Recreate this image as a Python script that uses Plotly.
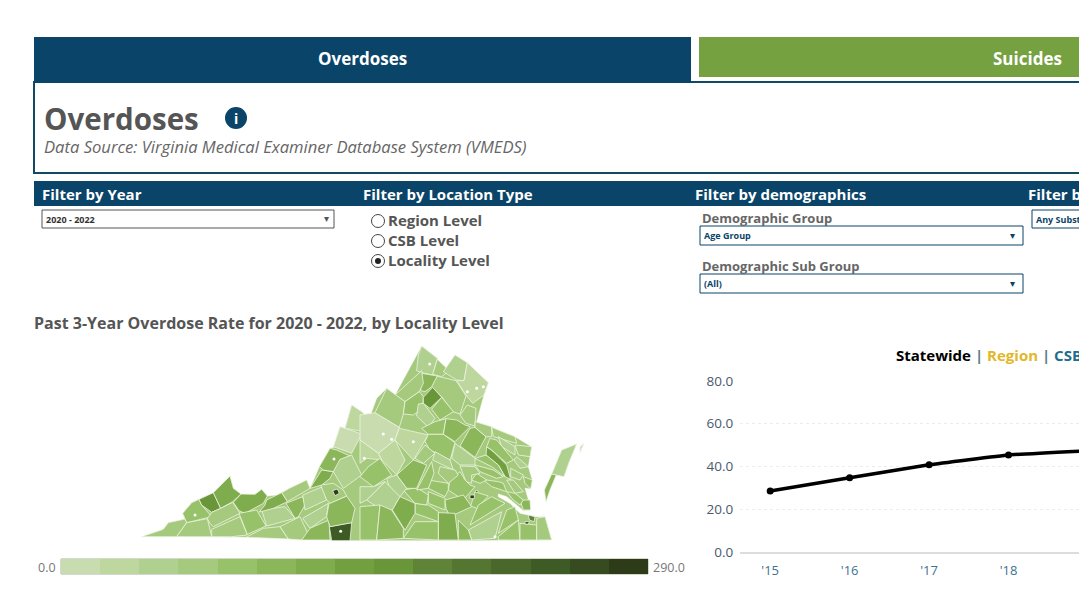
import plotly.graph_objects as go

W = 1079
H = 607

# Line chart data (statewide rate)
YEARS = [2015, 2016, 2017, 2018, 2019]
YEAR_LABELS = ["'15", "'16", "'17", "'18", "'19"]
STATEWIDE = [28.5, 34.7, 40.8, 45.4, 47.4]
RATE_TICKS = [0, 20, 40, 60, 80]

# Colour legend of the map
LEGEND_MIN = 0.0
LEGEND_MAX = 290.0
PALETTE = ["#c9dcb0", "#bdd79f", "#afd08e", "#a5ca7e", "#98c26a", "#8bb75a", "#7fac4c", "#72a040",
           "#6a963a", "#5f8438", "#557631", "#4a682b", "#3f5b25", "#374b20", "#2e3b19"]

# Map outlines, in map units
STATE_OUTLINE = [(35, 590), (100, 568), (115, 548), (165, 537), (158, 520), (185, 488), (207, 478), (250, 458),
                 (300, 408), (310, 445), (333, 462), (375, 463), (395, 448), (412, 468), (440, 465), (478, 445),
                 (530, 420), (540, 445), (568, 380), (600, 325), (615, 320), (630, 260), (645, 265), (665, 195),
                 (695, 215), (718, 235), (740, 175), (770, 145), (795, 165), (875, 18), (922, 55), (940, 95),
                 (975, 45), (1012, 68), (1075, 128), (1062, 165), (1040, 245), (1085, 262), (1155, 290),
                 (1205, 320), (1200, 350), (1195, 380), (1207, 420), (1202, 447), (1185, 445), (1200, 495),
                 (1202, 510), (1180, 512), (1160, 495), (1130, 470), (1105, 462), (1105, 470), (1140, 490),
                 (1170, 520), (1195, 525), (1215, 530), (1245, 530), (1265, 600), (1040, 602), (660, 602),
                 (350, 592), (35, 590)]

WEST_NAMES = ["Lee", "Scott", "Wise", "Dickenson", "Buchanan", "Russell", "Washington", "Tazewell", "Smyth",
              "Wythe", "Pulaski", "Bland", "Giles", "Grayson", "Carroll", "Floyd", "Montgomery", "Patrick",
              "Henry", "Franklin", "Roanoke", "Roanoke City", "Botetourt", "Alleghany", "Bath", "Highland",
              "Rockbridge"]
WEST_RATES = [68, 68, 87, 164, 125, 68, 68, 125, 87,
              50, 106, 68, 125, 68, 68, 50, 50, 106,
              242, 106, 68, 280, 125, 106, 10, 30,
              50]
WEST_OUTLINES = [
    [(35, 590), (100, 568), (115, 548), (165, 537), (170, 548), (140, 590)],
    [(140, 590), (170, 548), (232, 536), (245, 590)],
    [(158, 520), (185, 488), (207, 478), (215, 495), (245, 530), (170, 548)],
    [(207, 478), (250, 458), (272, 505), (245, 517), (215, 495)],
    [(250, 458), (300, 408), (310, 445), (333, 462), (308, 485), (272, 505)],
    [(232, 536), (245, 517), (272, 505), (308, 487), (330, 520), (250, 560), (240, 550)],
    [(245, 590), (245, 568), (330, 530), (352, 585), (305, 590)],
    [(310, 487), (333, 462), (375, 463), (395, 448), (412, 468), (400, 490), (345, 520), (327, 512)],
    [(327, 520), (380, 510), (408, 558), (352, 583)],
    [(395, 510), (465, 500), (495, 535), (410, 558)],
    [(468, 490), (518, 470), (525, 495), (505, 530), (495, 535)],
    [(455, 458), (478, 445), (530, 420), (540, 445), (472, 485)],
    [(410, 480), (455, 458), (472, 485), (430, 505), (388, 516), (405, 495)],
    [(352, 590), (400, 565), (450, 560), (475, 597), (352, 592)],
    [(450, 560), (510, 530), (538, 590), (515, 600), (475, 597)],
    [(518, 535), (595, 490), (590, 530), (540, 565)],
    [(518, 465), (578, 440), (590, 480), (525, 510)],
    [(515, 600), (540, 565), (597, 540), (600, 600)],
    [(598, 560), (665, 548), (660, 602), (605, 602)],
    [(590, 530), (597, 490), (650, 468), (675, 505), (665, 548), (600, 560)],
    [(572, 435), (610, 430), (640, 450), (650, 468), (600, 490), (590, 480)],
    [(608, 452), (622, 447), (628, 460), (615, 467)],
    [(540, 445), (575, 390), (610, 395), (600, 415), (575, 435), (545, 442)],
    [(568, 380), (600, 325), (620, 330), (660, 348), (640, 355), (610, 395), (580, 390)],
    [(610, 320), (630, 260), (695, 282), (665, 340)],
    [(645, 265), (665, 195), (695, 215), (718, 235), (700, 275)],
    [(610, 395), (630, 358), (665, 345), (695, 405), (640, 445)],
]

# These were read against a frame starting further east, EAST_SHIFT lines them up
EAST_SHIFT = 690
EAST_NAMES = ["Augusta", "Albemarle", "Nelson", "Amherst", "Frederick", "Clarke", "Loudoun", "Fairfax",
              "Fauquier", "Stafford", "Warren", "Shenandoah", "Rockingham", "Page", "Rappahannock", "Madison",
              "Greene", "Orange", "Spotsylvania", "Caroline", "Louisa", "Fluvanna", "Goochland", "Hanover",
              "King George", "Westmoreland", "Richmond", "Northumberland", "Lancaster", "King and Queen",
              "Essex", "King William", "New Kent", "Middlesex", "Gloucester", "Mathews", "James City",
              "Charles City", "Richmond City", "Henrico", "Chesterfield", "Powhatan", "Amelia", "Nottoway",
              "Dinwiddie", "Prince George", "Surry", "Southampton", "Greensville", "Brunswick", "Mecklenburg",
              "Lunenburg", "Prince Edward", "Cumberland", "Buckingham", "Appomattox", "Campbell", "Bedford",
              "Rockbridge East", "Pittsylvania", "Halifax", "Charlotte", "Isle of Wight", "Suffolk",
              "Chesapeake", "Virginia Beach", "Norfolk", "Portsmouth", "Newport News", "Hopewell", "Petersburg",
              "Northampton", "Accomack", "Tangier", "York"]
EAST_RATES = [10, 30, 30, 30, 50, 68, 50, 30,
              68, 68, 106, 68, 68, 87, 164, 87,
              50, 87, 106, 106, 87, 68, 50, 50,
              68, 68, 50, 68, 50, 145,
              87, 87, 87, 68, 68, 87, 87,
              87, 280, 68, 87, 68, 87, 87,
              106, 87, 87, 50, 106, 125, 87,
              87, 87, 87, 106, 50, 50, 87,
              50, 87, 106, 125, 87, 87,
              87, 68, 183, 280, 106, 280, 280,
              106, 50, 10, 87]
EAST_OUTLINES = [
    [(0, 225), (45, 218), (118, 262), (105, 300), (55, 340), (0, 300)],
    [(118, 265), (205, 285), (160, 360), (105, 300)],
    [(55, 340), (105, 300), (135, 360), (110, 405), (65, 360)],
    [(0, 300), (55, 340), (65, 360), (20, 355), (0, 370)],
    [(185, 18), (232, 55), (218, 105), (185, 98), (170, 92), (175, 45)],
    [(232, 58), (268, 92), (245, 110), (218, 103)],
    [(250, 95), (285, 45), (322, 68), (312, 122), (290, 120)],
    [(322, 68), (385, 128), (372, 165), (338, 190), (318, 165), (290, 122), (312, 122)],
    [(230, 108), (288, 122), (318, 168), (300, 222), (278, 215), (245, 170), (215, 140)],
    [(300, 225), (322, 195), (348, 205), (345, 258), (318, 250)],
    [(185, 100), (218, 105), (232, 108), (215, 140), (195, 155), (182, 152)],
    [(105, 165), (185, 92), (190, 130), (178, 155), (135, 185)],
    [(80, 145), (135, 185), (130, 222), (118, 262), (45, 218), (65, 178)],
    [(135, 185), (178, 155), (190, 170), (188, 205), (160, 225), (130, 222)],
    [(190, 172), (218, 142), (245, 172), (210, 205), (190, 190)],
    [(245, 172), (280, 215), (240, 240), (215, 208)],
    [(175, 192), (190, 190), (225, 235), (205, 262), (170, 228)],
    [(185, 265), (225, 245), (258, 236), (250, 283), (205, 283)],
    [(258, 236), (290, 240), (315, 255), (330, 260), (285, 305), (250, 283)],
    [(345, 262), (378, 290), (345, 352), (300, 318), (330, 265)],
    [(205, 283), (250, 283), (285, 308), (270, 360), (210, 330), (195, 305)],
    [(195, 315), (225, 340), (190, 370), (165, 355)],
    [(225, 335), (270, 360), (280, 390), (250, 375), (218, 360)],
    [(285, 310), (345, 355), (345, 375), (300, 375), (275, 355)],
    [(345, 245), (395, 260), (395, 290), (378, 290), (345, 262)],
    [(395, 262), (465, 290), (470, 310), (400, 290)],
    [(415, 290), (465, 320), (465, 345), (425, 320)],
    [(465, 315), (515, 320), (510, 350), (475, 345)],
    [(470, 350), (505, 380), (480, 385), (462, 360)],
    [(380, 320), (400, 335), (440, 375), (452, 418), (435, 410), (415, 375), (378, 345)],
    [(390, 295), (410, 300), (460, 360), (440, 370), (395, 330), (380, 320)],
    [(345, 355), (378, 345), (415, 375), (435, 410), (395, 380)],
    [(345, 375), (400, 390), (430, 410), (410, 415), (360, 395)],
    [(452, 385), (490, 405), (480, 420), (452, 410)],
    [(440, 420), (460, 420), (490, 455), (465, 460)],
    [(490, 410), (517, 420), (512, 447), (495, 430)],
    [(380, 420), (415, 425), (430, 430), (440, 455), (395, 440), (365, 415)],
    [(350, 400), (380, 420), (360, 430), (335, 420)],
    [(315, 398), (332, 398), (332, 418), (318, 418)],
    [(300, 378), (345, 380), (360, 400), (335, 405), (335, 430), (318, 425)],
    [(270, 420), (300, 395), (315, 420), (330, 435), (345, 440), (310, 480), (265, 450)],
    [(240, 380), (285, 390), (295, 405), (265, 430), (235, 400)],
    [(205, 420), (265, 430), (265, 450), (255, 470), (205, 445)],
    [(205, 455), (255, 475), (255, 510), (205, 490)],
    [(255, 480), (310, 465), (335, 500), (270, 530), (258, 505)],
    [(345, 455), (385, 468), (350, 505), (332, 498)],
    [(355, 495), (395, 470), (435, 490), (380, 525), (330, 555)],
    [(325, 570), (425, 515), (405, 595), (335, 600)],
    [(295, 540), (325, 570), (335, 600), (295, 600)],
    [(235, 518), (285, 520), (295, 600), (235, 600)],
    [(130, 595), (165, 545), (235, 545), (235, 600)],
    [(165, 490), (205, 495), (235, 515), (235, 545), (165, 520)],
    [(130, 450), (170, 443), (205, 465), (200, 495), (165, 490)],
    [(170, 450), (195, 405), (215, 365), (222, 400), (205, 445)],
    [(110, 405), (160, 360), (200, 375), (170, 445), (140, 445)],
    [(80, 415), (110, 405), (140, 445), (120, 470), (95, 465)],
    [(20, 480), (75, 425), (120, 470), (97, 510), (65, 510)],
    [(0, 410), (25, 380), (60, 355), (95, 405), (40, 440)],
    [(0, 440), (40, 440), (75, 425), (20, 480), (0, 490)],
    [(0, 500), (60, 495), (50, 600), (0, 600)],
    [(60, 495), (95, 510), (130, 565), (130, 595), (50, 600)],
    [(97, 510), (120, 470), (165, 490), (165, 520), (135, 570)],
    [(440, 510), (465, 500), (475, 540), (415, 580)],
    [(415, 590), (475, 540), (480, 600), (415, 600)],
    [(480, 550), (530, 555), (530, 600), (480, 600)],
    [(530, 535), (555, 530), (575, 600), (530, 600)],
    [(505, 525), (525, 530), (522, 545), (508, 540)],
    [(495, 545), (508, 545), (505, 552), (495, 552)],
    [(480, 480), (510, 480), (512, 510), (490, 510)],
    [(330, 465), (343, 465), (343, 476), (330, 476)],
    [(346, 452), (354, 452), (354, 457), (346, 457)],
    [(575, 402), (590, 402), (570, 450), (558, 485), (553, 450)],
    [(575, 402), (605, 330), (650, 312), (628, 365), (612, 410)],
    [(660, 320), (672, 310), (660, 338)],
    [(440, 455), (465, 460), (490, 480), (480, 495), (460, 480)],
]

# Small independent cities that show as white spots on the map
CITY_SPOTS_X = [195, 612, 632, 899, 1040, 1012, 760, 785, 850, 703, 1060, 1095]
CITY_SPOTS_Y = [525, 357, 574, 72, 145, 155, 282, 298, 305, 355, 140, 590]


def px(x):
    return x / W


def py(y):
    return 1 - y / H


def rate_color(rate):
    step = int((rate - LEGEND_MIN) / (LEGEND_MAX - LEGEND_MIN) * len(PALETTE))
    return PALETTE[min(step, len(PALETTE) - 1)]


NAVY = "#0a4468"
GREY = "#555555"
FONT = "Open Sans"

fig = go.Figure()

# Map: base shape first, then every locality on top
fig.add_trace(go.Scatter(x=[p[0] for p in STATE_OUTLINE], y=[p[1] for p in STATE_OUTLINE],
                         mode="lines", fill="toself", fillcolor=PALETTE[3],
                         line=dict(color="#ffffff", width=0.5), hoverinfo="skip", xaxis="x", yaxis="y"))

for names, rates, outlines, shift in [(WEST_NAMES, WEST_RATES, WEST_OUTLINES, 0),
                                      (EAST_NAMES, EAST_RATES, EAST_OUTLINES, EAST_SHIFT)]:
    for name, rate, outline in zip(names, rates, outlines):
        xs = [p[0] + shift for p in outline] + [outline[0][0] + shift]
        ys = [p[1] for p in outline] + [outline[0][1]]
        fig.add_trace(go.Scatter(x=xs, y=ys, mode="lines", fill="toself", fillcolor=rate_color(rate),
                                 line=dict(color="#eef4e2", width=0.8), text=name, hoveron="fills",
                                 hoverinfo="text", xaxis="x", yaxis="y"))

fig.add_trace(go.Scatter(x=CITY_SPOTS_X, y=CITY_SPOTS_Y, mode="markers",
                         marker=dict(color="#ffffff", size=3), hoverinfo="skip", xaxis="x", yaxis="y"))

# Legend strip, one heatmap cell per colour step
step_count = len(PALETTE)
legend_scale = []
for i, c in enumerate(PALETTE):
    legend_scale.append([i / step_count, c])
    legend_scale.append([(i + 1) / step_count, c])
fig.add_trace(go.Heatmap(z=[[i for i in range(step_count)]], colorscale=legend_scale, zmin=-0.5,
                         zmax=step_count - 0.5, showscale=False, hoverinfo="skip", xaxis="x3", yaxis="y3"))

# Statewide line
fig.add_trace(go.Scatter(x=YEARS, y=STATEWIDE, mode="lines+markers", name="Statewide",
                         line=dict(color="#000000", width=3.5, shape="spline", smoothing=0.3),
                         marker=dict(color="#000000", size=7), xaxis="x2", yaxis="y2"))

shapes = []
notes = []


def box(x0, y0, x1, y1, fill=None, line=None, width=1):
    shapes.append(dict(type="rect", xref="paper", yref="paper", x0=px(x0), y0=py(y0), x1=px(x1), y1=py(y1),
                       fillcolor=fill, line=dict(color=line, width=width if line else 0), layer="below"))


def note(x, y, text, size, color=GREY, anchor="left", bold=False):
    if bold:
        text = "<b>" + text + "</b>"
    notes.append(dict(xref="paper", yref="paper", x=px(x), y=py(y), text=text, showarrow=False,
                      xanchor=anchor, yanchor="middle", borderpad=0,
                      font=dict(family=FONT, size=size, color=color)))


# Tabs and header box
box(34, 82, 1090, 173, fill="#ffffff", line="#134a63", width=2)
box(34, 37, 691, 83, fill=NAVY)
box(699, 37, 1090, 77, fill="#76a140")
note(362, 58, "Overdoses", 17, "#ffffff", anchor="center", bold=True)
note(1027, 58, "Suicides", 17, "#ffffff", anchor="center", bold=True)
note(43, 119, "Overdoses", 29.5, GREY, bold=True)
note(43, 146, "<i>Data Source: Virginia Medical Examiner Database System (VMEDS)</i>", 16.6, "#666666")

# Info icon
shapes.append(dict(type="circle", xref="paper", yref="paper", x0=px(225), y0=py(107), x1=px(247), y1=py(129),
                   fillcolor=NAVY, line=dict(width=0), layer="below"))
note(236, 119, "i", 14, "#ffffff", anchor="center", bold=True)

# Filter bar
box(34, 181, 1090, 206, fill=NAVY)
note(41, 194, "Filter by Year", 15, "#ffffff", bold=True)
note(362, 194, "Filter by Location Type", 15, "#ffffff", bold=True)
note(694, 194, "Filter by demographics", 15, "#ffffff", bold=True)
note(1027, 194, "Filter b", 15, "#ffffff", bold=True)

# Drop downs
box(42, 210, 334, 228, fill="#ffffff", line="#555555")
note(45, 219, "2020 - 2022", 9, "#333333", bold=True)
note(326, 218, "▾", 10, "#555555", anchor="center")

note(701, 218, "Demographic Group", 13, "#666666", bold=True)
box(700, 226, 1023, 245, fill="#ffffff", line=NAVY)
note(703, 235, "Age Group", 9, NAVY, bold=True)
note(1012, 235, "▾", 10, NAVY, anchor="center")

note(701, 266, "Demographic Sub Group", 13, "#666666", bold=True)
box(700, 274, 1023, 293, fill="#ffffff", line=NAVY)
note(703, 283, "(All)", 9, NAVY, bold=True)
note(1012, 283, "▾", 10, NAVY, anchor="center")

box(1032, 210, 1095, 228, fill="#ffffff", line=NAVY)
note(1035, 219, "Any Subst", 9, NAVY, bold=True)

# Location radio buttons
for label, y, picked in [("Region Level", 221, False), ("CSB Level", 241, False), ("Locality Level", 261, True)]:
    shapes.append(dict(type="circle", xref="paper", yref="paper", x0=px(371.5), y0=py(y - 6.5), x1=px(384.5),
                       y1=py(y + 6.5), fillcolor="#ffffff", line=dict(color="#444444", width=1), layer="below"))
    if picked:
        shapes.append(dict(type="circle", xref="paper", yref="paper", x0=px(375), y0=py(y - 3), x1=px(381),
                           y1=py(y + 3), fillcolor="#222222", line=dict(width=0), layer="below"))
    note(387, y - 1, label, 15, "#555555", bold=True)

# Map title and legend labels
note(33, 323, "Past 3-Year Overdose Rate for 2020 - 2022, by Locality Level", 16, "#555555", bold=True)
note(57, 567, f"{LEGEND_MIN:.1f}", 12.5, "#777777", anchor="right")
note(652, 567, f"{LEGEND_MAX:.1f}", 12.5, "#777777")
box(61, 559, 648, 574, line="#aab29a")

# Line chart heading
note(895, 355, "<b><span style='color:#000000'>Statewide</span> <span style='color:#5a7a8c'>|</span> "
               "<span style='color:#e3b72a'>Region</span> <span style='color:#5a7a8c'>|</span> "
               "<span style='color:#1f6e8c'>CSB</span></b>", 15)

fig.update_layout(
    width=W,
    height=H,
    autosize=False,
    margin=dict(l=0, r=0, t=0, b=0, pad=0, autoexpand=False),
    paper_bgcolor="#ffffff",
    plot_bgcolor="rgba(0,0,0,0)",
    showlegend=False,
    font=dict(family=FONT),
    shapes=shapes,
    annotations=notes,
    # map
    xaxis=dict(domain=[px(130), px(600)], range=[0, 1410], visible=False, fixedrange=True),
    yaxis=dict(domain=[py(545), py(340)], range=[615, 0], visible=False, fixedrange=True),
    # line chart
    xaxis2=dict(domain=[px(740), 1], range=[2014.62, 2018.887], anchor="y2", tickvals=YEARS, ticktext=YEAR_LABELS,
                showgrid=False, zeroline=False, showline=True, linecolor="#dddddd", linewidth=2,
                ticks="outside", ticklen=5, tickcolor="rgba(0,0,0,0)",
                tickfont=dict(size=13, color="#3d7290", family=FONT), ticklabeloverflow="allow", fixedrange=True),
    yaxis2=dict(domain=[py(552), py(381)], range=[0, 80], anchor="x2", tickvals=RATE_TICKS, tickformat=".1f",
                showgrid=True, gridcolor="#ececec", griddash="dot", gridwidth=1, zeroline=False, showline=False,
                ticks="outside", ticklen=3, tickcolor="rgba(0,0,0,0)",
                tickfont=dict(size=13.5, color="#4a5a6a", family=FONT), fixedrange=True),
    # legend strip
    xaxis3=dict(domain=[px(61), px(648)], visible=False, fixedrange=True),
    yaxis3=dict(domain=[py(574), py(559)], visible=False, fixedrange=True),
)

fig.write_html("out.html", post_script="document.body.style.margin='0';", config=dict(displayModeBar=False))
